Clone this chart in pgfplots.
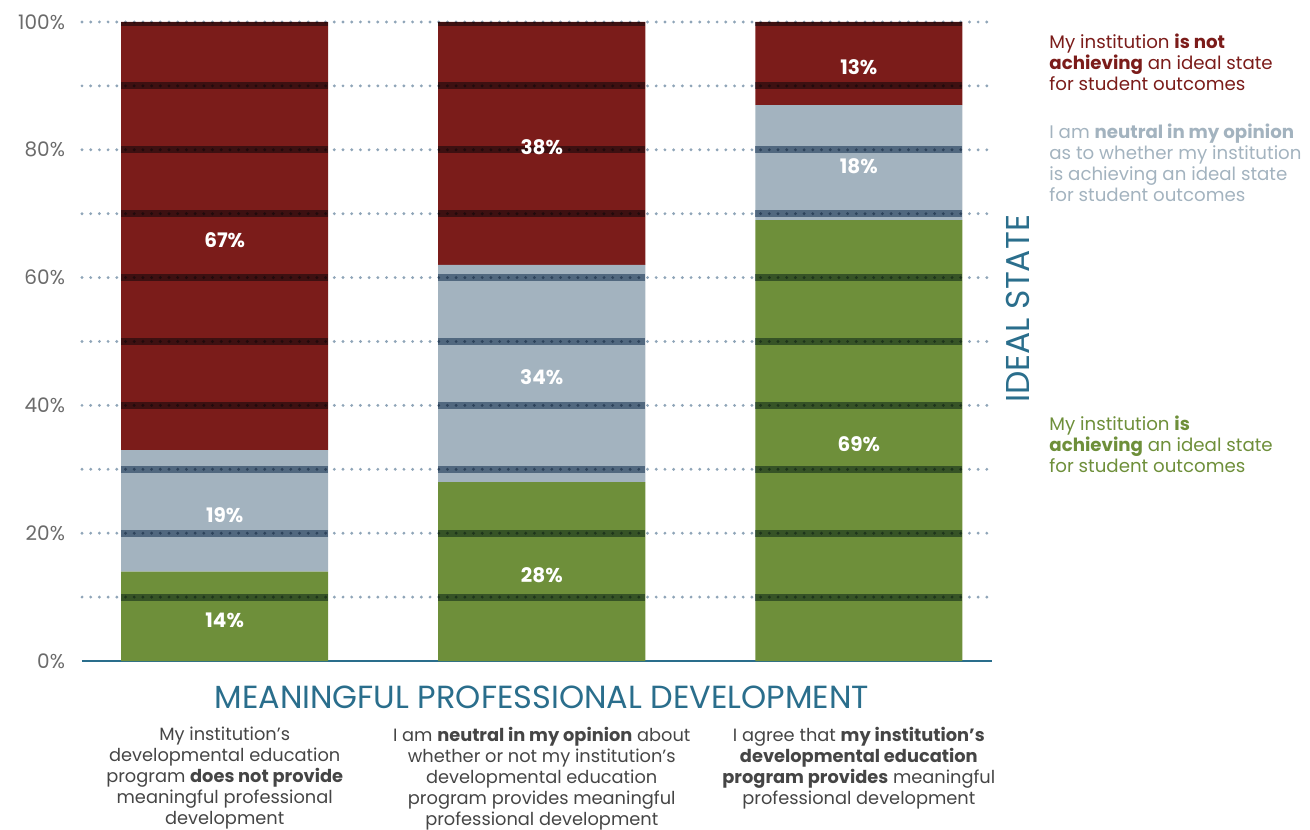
\documentclass[border=0pt]{standalone}
\usepackage{pgfplots}
\pgfplotsset{compat=1.18}
\usepackage{fontspec}
\setmainfont{Poppins}
\definecolor{redbar}{HTML}{7B1C1A}
\definecolor{graybar}{HTML}{A3B3BF}
\definecolor{greenbar}{HTML}{6E8F3A}
\definecolor{tealc}{HTML}{2A6E8C}
\definecolor{dotc}{HTML}{8FA5B8}
\definecolor{bandc}{HTML}{7F95AA}
\definecolor{tickc}{HTML}{6B6B6B}
\definecolor{textc}{HTML}{454545}

\begin{document}
\begin{tikzpicture}
\begin{axis}[
  name=ax, at={(0,0)}, anchor=south west,
  scale only axis, width=455pt, height=319.5pt,
  xmin=-0.45, xmax=2.42, ymin=0, ymax=100,
  ybar stacked, bar width=0.653,
  axis x line*=bottom, axis y line*=left,
  x axis line style={tealc, line width=1.2pt, -},
  y axis line style={draw=none},
  tick style={draw=none},
  clip=false,
  ytick={0,20,...,100},
  yticklabel={\pgfmathprintnumber{\tick}\%},
  yticklabel style={tickc, font=\fontsize{10}{12}\selectfont, xshift=-5pt},
  /pgf/number format/assume math mode=true,
  xtick={0,1,2},
  xticklabels={
    {My institution's\\developmental education\\program \textbf{does not provide}\\meaningful professional\\development},
    {I am \textbf{neutral in my opinion} about\\whether or not my institution's\\developmental education\\program provides meaningful\\professional development},
    {I agree that \textbf{my institution's}\\\textbf{developmental education}\\\textbf{program provides} meaningful\\professional development}},
  xticklabel style={align=center, anchor=north, inner sep=0pt, text=textc,
    font=\fontsize{8.9}{10.5}\selectfont},
  xticklabel shift=33pt,
]
\addplot[fill=greenbar, draw=none] coordinates {(0,14) (1,28) (2,69)};
\addplot[fill=graybar, draw=none] coordinates {(0,19) (1,34) (2,18)};
\addplot[fill=redbar, draw=none] coordinates {(0,67) (1,38) (2,13)};
\node[tealc, font=\fontsize{16}{19}\selectfont] at (axis cs:1,0) [yshift=-18pt] {MEANINGFUL PROFESSIONAL DEVELOPMENT};
\end{axis}

\begin{axis}[
  at={(0,0)}, anchor=south west,
  scale only axis, width=455pt, height=319.5pt,
  xmin=-0.45, xmax=2.42, ymin=0, ymax=100,
  hide axis, clip=false,
]
% darker bands where the grid crosses the bars
\pgfplotsinvokeforeach{10,20,30,40,50,60,70,80,90}{
  \fill[bandc, blend mode=multiply] (axis cs:-0.3265,#1-0.55) rectangle (axis cs:0.3265,#1+0.55);
  \fill[bandc, blend mode=multiply] (axis cs:0.6735,#1-0.55) rectangle (axis cs:1.3265,#1+0.55);
  \fill[bandc, blend mode=multiply] (axis cs:1.6735,#1-0.55) rectangle (axis cs:2.3265,#1+0.55);
}
\pgfplotsinvokeforeach{0,1,2}{
  \fill[bandc, blend mode=multiply] (axis cs:#1-0.3265,99.45) rectangle (axis cs:#1+0.3265,100);
}
\pgfplotsinvokeforeach{10,20,30,40,50,60,70,80,90,100}{
  \draw[dotc, line width=1.6pt, line cap=round, dash pattern=on 0pt off 4.35pt, blend mode=multiply]
    (axis cs:-0.45,#1) -- (axis cs:2.42,#1);
}
\addplot[only marks, mark=none, nodes near coords, point meta=explicit symbolic,
  nodes near coords style={white, anchor=center, yshift=-2pt, font=\fontsize{10}{12}\selectfont\bfseries}]
  coordinates {(0,7)[14\%] (0,23.5)[19\%] (0,66.5)[67\%]
               (1,14)[28\%] (1,45)[34\%] (1,81)[38\%]
               (2,34.5)[69\%] (2,78)[18\%] (2,93.5)[13\%]};
\end{axis}

\node[tealc, rotate=90, font=\fontsize{16.5}{19}\selectfont] at ([xshift=468pt,yshift=-143.5pt]ax.north west) {IDEAL STATE};
\node[anchor=north west, align=left, inner sep=0pt, text=redbar, font=\fontsize{9.1}{10.5}\selectfont]
  at ([xshift=483.5pt,yshift=-6pt]ax.north west)
  {My institution \textbf{is not}\\\textbf{achieving} an ideal state\\for student outcomes};
\node[anchor=north west, align=left, inner sep=0pt, text=graybar, font=\fontsize{9.1}{10.5}\selectfont]
  at ([xshift=483.5pt,yshift=-51pt]ax.north west)
  {I am \textbf{neutral in my opinion}\\as to whether my institution\\is achieving an ideal state\\for student outcomes};
\node[anchor=north west, align=left, inner sep=0pt, text=greenbar, font=\fontsize{9.1}{10.5}\selectfont]
  at ([xshift=483.5pt,yshift=-197pt]ax.north west)
  {My institution \textbf{is}\\\textbf{achieving} an ideal state\\for student outcomes};

\pgfresetboundingbox
\path (ax.south west) ++(-41pt,-84pt) rectangle ++(655pt,414.5pt);
\end{tikzpicture}
\end{document}
